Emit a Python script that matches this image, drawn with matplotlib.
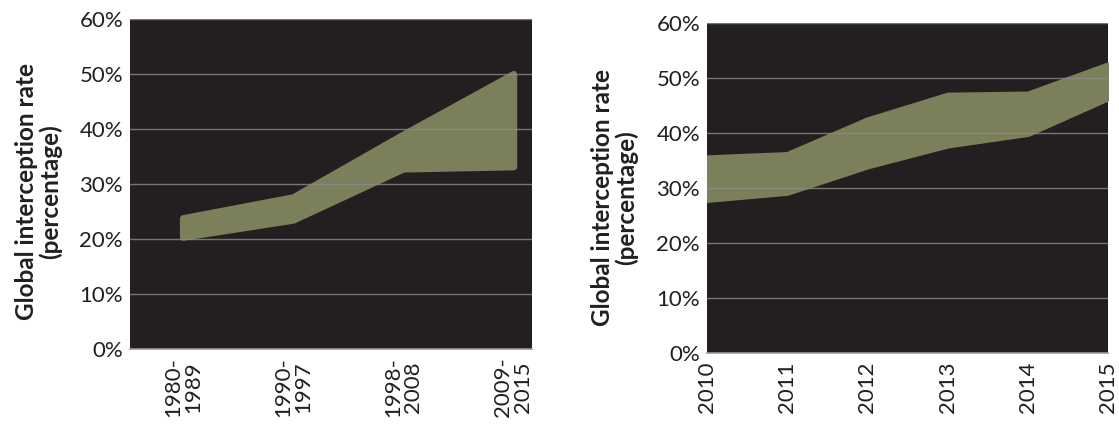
import matplotlib.pyplot as plt
import matplotlib.ticker as mticker

plt.rcParams['font.family'] = ['Lato', 'DejaVu Sans']

# Left panel: interception rate range by period
periods = ['1980-\n1989', '1990-\n1997', '1998-\n2008', '2009-\n2015']
period_high = [23.8, 27.6, 39.0, 50.0]
period_low = [20.4, 23.5, 32.8, 33.2]

# Right panel: interception rate range by year
years = [2010, 2011, 2012, 2013, 2014, 2015]
year_high = [35.4, 36.0, 42.3, 46.8, 47.0, 52.3]
year_low = [28.0, 29.3, 34.1, 37.9, 40.0, 46.5]

bg = '#231f20'
band = '#7b805b'
grid = '#8c8c8c'
text = '#231f20'

fig = plt.figure(figsize=(11.19, 4.26), dpi=100)
ax1 = fig.add_axes([0.1162, 0.1808, 0.3592, 0.7746])
ax2 = fig.add_axes([0.6318, 0.1714, 0.3584, 0.7746])


def style(ax):
    ax.set_facecolor(bg)
    ax.set_ylim(0, 60)
    ax.set_yticks(range(0, 61, 10))
    ax.yaxis.set_major_formatter(mticker.FuncFormatter(lambda v, p: f'{v:.0f}%'))
    ax.grid(axis='y', color=grid, linewidth=1.0, alpha=0.8)
    ax.set_axisbelow(False)
    for s in ['left', 'right', 'top']:
        ax.spines[s].set_visible(False)
    ax.spines['bottom'].set_color('#9a9a9a')
    ax.spines['bottom'].set_linewidth(1.2)
    ax.tick_params(axis='both', length=0, labelsize=16, labelcolor=text)
    ax.tick_params(axis='y', pad=5)
    ax.tick_params(axis='x', rotation=90, pad=6)


# left chart
x1 = list(range(len(periods)))
ax1.fill_between(x1, period_low, period_high, color=band, edgecolor=band,
                 linewidth=5, joinstyle='round', zorder=1)
style(ax1)
ax1.set_xlim(-0.48, 3.17)
ax1.set_xticks(x1)
ax1.set_xticklabels(periods, linespacing=1.0)
ax1.set_ylabel('Global interception rate\n(percentage)', fontsize=17.5,
               fontweight='bold', color=text, linespacing=1.0)
ax1.yaxis.set_label_coords(-0.17, 0.476)

# right chart
ax2.fill_between(years, year_low, year_high, color=band, edgecolor=band,
                 linewidth=5, joinstyle='round', zorder=1)
style(ax2)
ax2.set_xlim(2010, 2015)
ax2.set_xticks(years)
ax2.set_ylabel('Global interception rate\n(percentage)', fontsize=17.5,
               fontweight='bold', color=text, linespacing=1.0)
ax2.yaxis.set_label_coords(-0.172, 0.47)

fig.savefig('out.png', dpi=100)
